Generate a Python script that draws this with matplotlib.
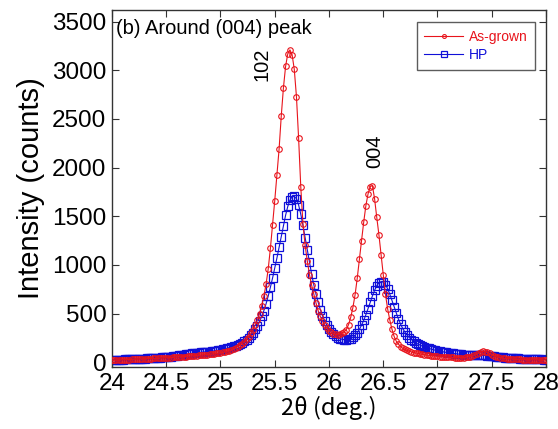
import numpy as np
import matplotlib
matplotlib.use("Agg")
import matplotlib.pyplot as plt

# 2theta scan, 24.00 .. 28.00 deg, step 0.02
two_theta = np.round(24 + 0.02 * np.arange(201), 2)

as_grown = [
    20, 20, 22, 22, 24, 24, 25, 26, 27, 28,
    29, 30, 31, 32, 33, 34, 35, 36, 37, 38,
    39, 40, 41, 42, 43, 44, 45, 47, 48, 50,
    51, 53, 55, 57, 58, 60, 62, 64, 66, 68,
    70, 72, 74, 76, 78, 80, 83, 86, 89, 92,
    95, 100, 105, 110, 117, 125, 135, 147, 160, 175,
    190, 210, 235, 262, 295, 335, 380, 430, 500, 580,
    680, 800, 960, 1170, 1410, 1660, 1920, 2190, 2530, 2820,
    3040, 3170, 3210, 3160, 3010, 2730, 2300, 1800, 1420, 1200,
    1040, 900, 790, 700, 610, 530, 470, 420, 380, 350,
    325, 305, 292, 285, 283, 288, 298, 312, 335, 385,
    460, 560, 690, 860, 1060, 1250, 1440, 1610, 1730, 1805,
    1815, 1680, 1490, 1310, 1100, 900, 700, 550, 435, 340,
    265, 215, 185, 160, 142, 130, 120, 112, 105, 99,
    94, 89, 84, 80, 76, 73, 70, 67, 64, 62,
    60, 58, 56, 54, 52, 50, 49, 48, 47, 46,
    46, 46, 47, 49, 53, 58, 65, 74, 84, 95,
    105, 110, 108, 100, 90, 78, 67, 58, 51, 46,
    42, 39, 37, 35, 33, 31, 30, 29, 28, 27,
    26, 26, 25, 25, 24, 24, 23, 23, 22, 22,
    22,
]

hp = [
    25, 25, 26, 26, 27, 27, 28, 29, 30, 31,
    32, 33, 34, 35, 36, 37, 38, 40, 41, 42,
    44, 45, 47, 49, 51, 53, 55, 58, 60, 63,
    66, 69, 72, 76, 80, 84, 88, 92, 95, 97,
    99, 100, 102, 104, 106, 109, 112, 115, 119, 123,
    127, 132, 137, 143, 149, 155, 162, 170, 179, 189,
    201, 215, 232, 252, 276, 304, 337, 375, 420, 470,
    530, 600, 680, 770, 865, 965, 1070, 1180, 1290, 1400,
    1510, 1600, 1665, 1700, 1705, 1680, 1615, 1520, 1405, 1280,
    1150, 1025, 905, 795, 700, 615, 540, 478, 425, 380,
    343, 312, 288, 268, 253, 242, 235, 231, 230, 233,
    241, 255, 275, 302, 337, 380, 430, 488, 550, 615,
    680, 738, 785, 815, 828, 822, 798, 755, 700, 635,
    568, 502, 442, 390, 345, 308, 278, 253, 232, 214,
    199, 186, 175, 165, 156, 148, 141, 134, 128, 122,
    117, 112, 108, 104, 100, 96, 93, 90, 87, 84,
    81, 79, 77, 75, 73, 72, 71, 70, 70, 70,
    70, 70, 69, 67, 65, 62, 59, 56, 53, 51,
    49, 47, 45, 43, 42, 40, 39, 38, 37, 36,
    35, 34, 33, 32, 31, 30, 29, 28, 28, 27,
    27,
]

series_labels = ["As-grown", "HP"]
x_ticks = [24, 24.5, 25, 25.5, 26, 26.5, 27, 27.5, 28]
x_tick_labels = ["24", "24.5", "25", "25.5", "26", "26.5", "27", "27.5", "28"]
y_ticks = [0, 500, 1000, 1500, 2000, 2500, 3000, 3500]
peak_labels = ["102", "004"]
peak_pos = [(25.38, 3060), (26.42, 2165)]

plt.rcParams['font.family'] = ['Liberation Sans', 'DejaVu Sans']

fig = plt.figure(figsize=(5.58, 4.29), dpi=100)
ax = fig.add_axes([0.2007, 0.1445, 0.7778, 0.8322])

red = "#e8141c"
blue = "#1010d8"

l2, = ax.plot(two_theta, hp, color=blue, lw=0.8, marker='s', ms=5.2,
              mfc='none', mec=blue, mew=0.9, label=series_labels[1], zorder=2)
l1, = ax.plot(two_theta, as_grown, color=red, lw=0.8, marker='o', ms=4.0,
              mfc='none', mec=red, mew=0.8, label=series_labels[0], zorder=3)

ax.set_xlim(24, 28)
ax.set_ylim(-50, 3620)
ax.set_xticks(x_ticks)
ax.set_xticklabels(x_tick_labels)
ax.set_yticks(y_ticks)
ax.tick_params(direction='in', length=5, width=0.8, labelsize=17.5,
               top=True, right=True, color='#333333', pad=4)
for s in ax.spines.values():
    s.set_linewidth(1.0)
    s.set_color('#333333')

ax.set_xlabel("2θ (deg.)", fontsize=17, labelpad=1,
              family=['Noto Sans CJK JP', 'DejaVu Sans'])
ax.set_ylabel("Intensity (counts)", fontsize=21, labelpad=5)

ax.text(0.01, 0.975, "(b) Around (004) peak", transform=ax.transAxes,
        fontsize=14.5, ha='left', va='top')
for lab, (px, py) in zip(peak_labels, peak_pos):
    ax.text(px, py, lab, rotation=90, fontsize=14.5, ha='center', va='center')

leg = ax.legend(handles=[l1, l2], loc='upper right', bbox_to_anchor=(0.975, 0.966),
                borderaxespad=0, fontsize=10, frameon=True, fancybox=False,
                handlelength=2.8, borderpad=0.55, labelspacing=0.3,
                handletextpad=0.4, markerscale=0.7)
leg.get_frame().set_edgecolor('#333333')
leg.get_frame().set_linewidth(1.0)
for txt, c in zip(leg.get_texts(), [red, blue]):
    txt.set_color(c)

fig.savefig("out.png", dpi=100)
